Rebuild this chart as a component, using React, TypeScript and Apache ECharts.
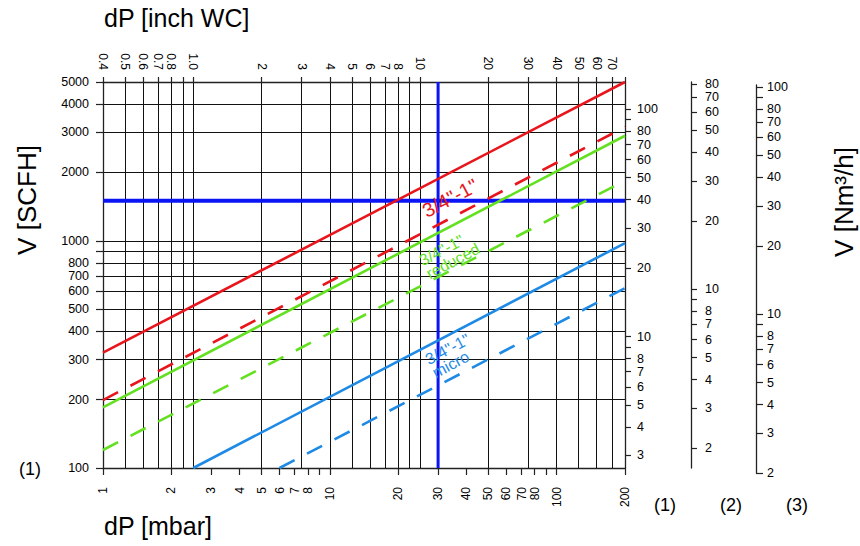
import React, { useEffect, useRef } from 'react';
import * as echarts from 'echarts';

const LOG = (v: number) => Math.log10(v);

// Bottom axis: dP [mbar]
const mbarTicks = [1, 2, 3, 4, 5, 6, 7, 8, 9, 10, 20, 30, 40, 50, 60, 70, 80, 90, 100, 200];
const mbarLabels = ['1', '2', '3', '4', '5', '6', '7', '8', '10', '20', '30', '40', '50', '60', '70', '80', '100', '200'];

// Top axis: dP [inch WC]
const MBAR_PER_INCH_WC = 2.5;
const inchTicks = [0.4, 0.5, 0.6, 0.7, 0.8, 0.9, 1, 2, 3, 4, 5, 6, 7, 8, 9, 10, 20, 30, 40, 50, 60, 70, 80];
const inchLabels = ['0.4', '0.5', '0.6', '0.7', '0.8', '1.0', '2', '3', '4', '5', '6', '7', '8', '10', '20', '30', '40', '50', '60', '70'];

// Left axis: V [SCFH]
const scfhTicks = [100, 200, 300, 400, 500, 600, 700, 800, 900, 1000, 2000, 3000, 4000, 5000];
const scfhLabels = ['100', '200', '300', '400', '500', '600', '700', '800', '1000', '2000', '3000', '4000', '5000'];

// Right axes: V [Nm³/h] for gases (1), (2), (3)
const SCFH_PER_NM3 = [37.9, 61.2, 47.5];
const nm1Ticks = [3, 4, 5, 6, 7, 8, 9, 10, 20, 30, 40, 50, 60, 70, 80, 90, 100];
const nm1Labels = ['3', '4', '5', '6', '7', '8', '10', '20', '30', '40', '50', '60', '70', '80', '100'];
const nm2Ticks = [2, 3, 4, 5, 6, 7, 8, 9, 10, 20, 30, 40, 50, 60, 70, 80];
const nm2Labels = ['2', '3', '4', '5', '6', '7', '8', '10', '20', '30', '40', '50', '60', '70', '80'];
const nm3Ticks = [2, 3, 4, 5, 6, 7, 8, 9, 10, 20, 30, 40, 50, 60, 70, 80, 90, 100];
const nm3Labels = ['2', '3', '4', '5', '6', '7', '8', '10', '20', '30', '40', '50', '60', '70', '80', '100'];

// Curves: [dP mbar, V SCFH]
const redSolid = [[1, 322], [200, 5000]];
const redDashed = [[1, 199], [200, 3170]];
const greenSolid = [[1, 185], [200, 2900]];
const greenDashed = [[1, 120], [200, 1840]];
const blueSolid = [[2.5, 100], [200, 977]];
const blueDashed = [[6.0, 100], [200, 619]];

// Operating point
const pointDP = 30;
const pointV = 1500;

const RED = '#e8161c';
const GREEN = '#63e01f';
const BLUE = '#1e8ae6';
const XBLUE = '#0a14f5';
const FONT = '"Liberation Sans", Arial, sans-serif';

function parts(ticks: number[], labels: string[]) {
  const lv = labels.map((s) => LOG(parseFloat(s)));
  return {
    ticks: ticks.map(LOG),
    labels: lv,
    formatter: (v: number) => {
      let best = 0;
      let bd = Infinity;
      lv.forEach((x, i) => {
        const d = Math.abs(x - v);
        if (d < bd) {
          bd = d;
          best = i;
        }
      });
      return labels[best];
    },
  };
}

const toLog = (pts: number[][]) => pts.map(([x, y]) => [LOG(x), LOG(y)]);

export default function App() {
  const ref = useRef<HTMLDivElement>(null);
  useEffect(() => {
    document.body.style.margin = '0';
    const chart = echarts.init(ref.current!, null, { renderer: 'svg' });

    const axisLine = { show: true, onZero: false, lineStyle: { color: '#222', width: 1.3 } };
    const tickStyle = { color: '#222', width: 1.2 };
    const gridLine = { show: true, lineStyle: { color: '#111', width: 1 } };
    const lbl = { color: '#000', fontFamily: FONT };

    const mb = parts(mbarTicks, mbarLabels);
    const inch = parts(inchTicks, inchLabels);
    const sc = parts(scfhTicks, scfhLabels);
    const n1 = parts(nm1Ticks, nm1Labels);
    const n2 = parts(nm2Ticks, nm2Labels);
    const n3 = parts(nm3Ticks, nm3Labels);

    const pxPerDecade = 386 / LOG(50);
    const grid1Height = 546 - 85 - 73;

    const lineSeries = (data: number[][], color: string, width: number, type: any, z = 3) => ({
      type: 'line',
      data: toLog(data),
      showSymbol: false,
      symbol: 'none',
      silent: true,
      z,
      lineStyle: { color, width, type },
    });

    const rot = (28 * Math.PI) / 180;

    chart.setOption({
      animation: false,
      textStyle: { fontFamily: FONT },
      grid: [
        { left: 103, right: 235, top: 82, bottom: 78, outerBoundsMode: 'none', containLabel: false },
        { left: 103, right: 235, top: 85, bottom: 73, outerBoundsMode: 'none', containLabel: false },
      ],
      xAxis: [
        {
          type: 'value', gridIndex: 0, position: 'bottom', min: 0, max: LOG(200),
          axisLine,
          axisTick: { show: true, length: 7, lineStyle: tickStyle, customValues: mb.ticks },
          axisLabel: { ...lbl, rotate: 90, margin: 19, fontSize: 12, customValues: mb.labels, formatter: mb.formatter },
          splitLine: { show: false },
        },
        {
          type: 'value', gridIndex: 0, position: 'top',
          min: LOG(0.4), max: LOG(200 / MBAR_PER_INCH_WC),
          axisLine,
          axisTick: { show: true, length: 5, lineStyle: tickStyle, customValues: inch.ticks },
          axisLabel: { ...lbl, rotate: 90, margin: 12, fontSize: 12, customValues: inch.labels, formatter: inch.formatter },
          splitLine: gridLine,
        },
        { type: 'value', gridIndex: 1, show: false, min: 0, max: LOG(200) },
      ],
      yAxis: [
        {
          type: 'value', gridIndex: 0, position: 'left', min: LOG(100), max: LOG(5000),
          axisLine,
          axisTick: { show: true, length: 7, lineStyle: tickStyle, customValues: sc.ticks },
          axisLabel: { ...lbl, margin: 14, fontSize: 12.5, customValues: sc.labels, formatter: sc.formatter },
          splitLine: gridLine,
        },
        {
          type: 'value', gridIndex: 0, position: 'right', offset: 0,
          min: LOG(100 / SCFH_PER_NM3[0]), max: LOG(5000 / SCFH_PER_NM3[0]),
          axisLine,
          axisTick: { show: true, length: 6, lineStyle: tickStyle, customValues: n1.ticks },
          axisLabel: { ...lbl, margin: 12, fontSize: 12.5, customValues: n1.labels, formatter: n1.formatter },
          splitLine: { show: false },
        },
        {
          type: 'value', gridIndex: 0, position: 'right', offset: 66,
          min: LOG(100 / SCFH_PER_NM3[1]), max: LOG(5000 / SCFH_PER_NM3[1]),
          axisLine,
          axisTick: { show: true, length: 6, lineStyle: tickStyle, customValues: n2.ticks },
          axisLabel: { ...lbl, margin: 14, fontSize: 12.5, customValues: n2.labels, formatter: n2.formatter },
          splitLine: { show: false },
        },
        {
          type: 'value', gridIndex: 1, position: 'right', offset: 131,
          min: LOG(2), max: LOG(2) + grid1Height / pxPerDecade,
          axisLine,
          axisTick: { show: true, length: 7, lineStyle: tickStyle, customValues: n3.ticks },
          axisLabel: { ...lbl, margin: 11, fontSize: 12.5, customValues: n3.labels, formatter: n3.formatter },
          splitLine: { show: false },
        },
      ],
      series: [
        lineSeries([[pointDP, 100], [pointDP, 5000]], XBLUE, 3, 'solid', 2),
        lineSeries([[1, pointV], [200, pointV]], XBLUE, 4, 'solid', 2),
        lineSeries(redSolid, RED, 2.6, 'solid'),
        lineSeries(redDashed, RED, 2.6, [17, 14]),
        lineSeries(greenSolid, GREEN, 2.6, 'solid'),
        lineSeries(greenDashed, GREEN, 2.6, [17, 14]),
        lineSeries(blueSolid, BLUE, 2.6, 'solid'),
        lineSeries(blueDashed, BLUE, 2.6, [17, 14]),
      ],
      graphic: [
        { type: 'text', x: 104, y: 18, style: { text: 'dP [inch WC]', font: `25px ${FONT}`, fill: '#000', verticalAlign: 'middle', align: 'left' } },
        { type: 'text', x: 104, y: 526, style: { text: 'dP [mbar]', font: `25px ${FONT}`, fill: '#000', verticalAlign: 'middle', align: 'left' } },
        { type: 'text', x: 27, y: 200, rotation: Math.PI / 2, style: { text: 'V [SCFH]', font: `26px ${FONT}`, fill: '#000', verticalAlign: 'middle', align: 'center' } },
        { type: 'text', x: 844, y: 202, rotation: Math.PI / 2, style: { text: 'V [Nm³/h]', font: `26px ${FONT}`, fill: '#000', verticalAlign: 'middle', align: 'center' } },
        { type: 'text', x: 30, y: 469, style: { text: '(1)', font: `18px ${FONT}`, fill: '#000', verticalAlign: 'middle', align: 'center' } },
        { type: 'text', x: 665, y: 505, style: { text: '(1)', font: `18px ${FONT}`, fill: '#000', verticalAlign: 'middle', align: 'center' } },
        { type: 'text', x: 731, y: 505, style: { text: '(2)', font: `18px ${FONT}`, fill: '#000', verticalAlign: 'middle', align: 'center' } },
        { type: 'text', x: 797, y: 505, style: { text: '(3)', font: `18px ${FONT}`, fill: '#000', verticalAlign: 'middle', align: 'center' } },
        { type: 'text', x: 450, y: 198, rotation: rot, z: 10, style: { text: '3/4"-1"', font: `20px ${FONT}`, fill: RED, verticalAlign: 'middle', align: 'center' } },
        { type: 'text', x: 424, y: 268, rotation: rot, z: 10, style: { text: '3/4"-1"\nreduced', font: `16px ${FONT}`, lineHeight: 15, fill: GREEN, verticalAlign: 'middle', align: 'left' } },
        { type: 'text', x: 430, y: 367, rotation: rot, z: 10, style: { text: '3/4"-1"\nmicro', font: `16px ${FONT}`, lineHeight: 15, fill: BLUE, verticalAlign: 'middle', align: 'left' } },
      ],
    });
    return () => chart.dispose();
  }, []);
  return <div ref={ref} style={{ width: 860, height: 546, position: 'absolute', left: 0, top: 0 }} />;
}
